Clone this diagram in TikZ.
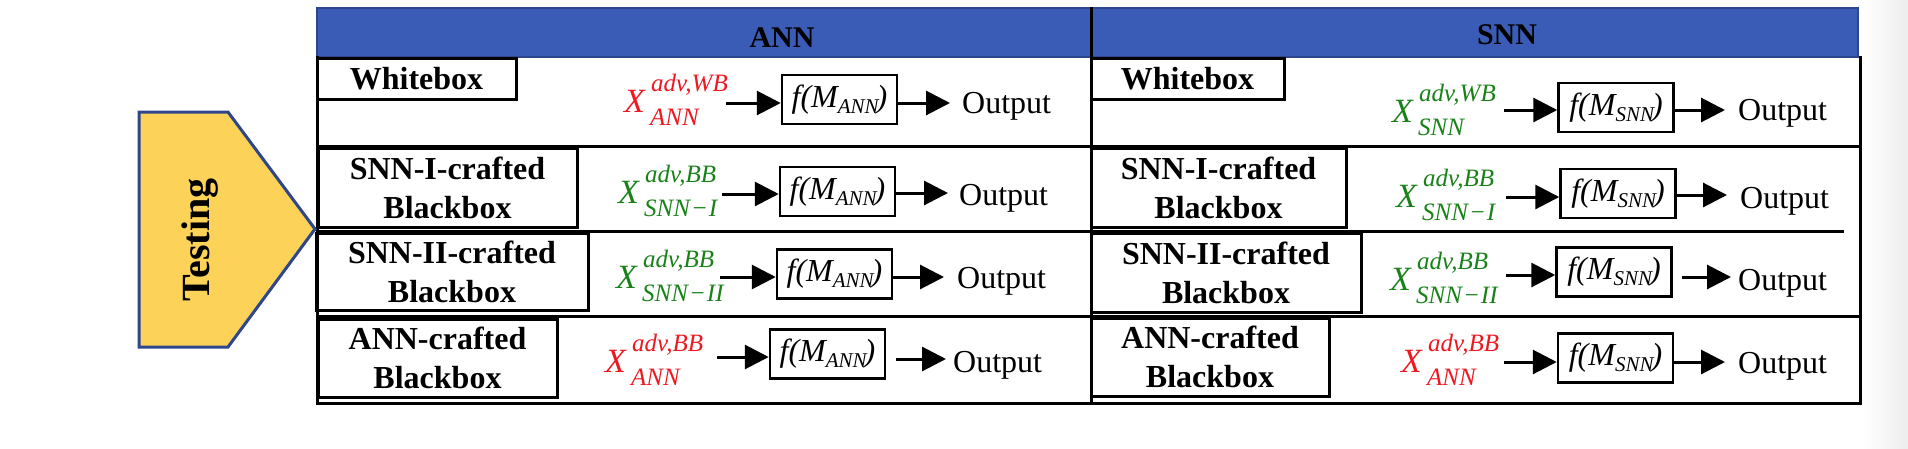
\documentclass[tikz,border=0pt]{standalone}
\usepackage{fontspec}
\setmainfont{Liberation Serif}
\usetikzlibrary{arrows.meta,calc}
\definecolor{hdrblue}{RGB}{58,92,182}
\definecolor{hdrborder}{RGB}{45,70,140}
\definecolor{testyel}{RGB}{253,210,88}
\definecolor{advred}{RGB}{238,24,32}
\definecolor{advgreen}{RGB}{24,130,24}
\newcommand{\fsz}[1]{\fontsize{#1}{#1}\selectfont}
\newcommand{\fM}[1]{f(M\raisebox{-6pt}{\fsz{21}#1}\kern-2pt)}
\newcommand{\advcell}[6]{%
  \node[xsty,text=#4] (#1) at (#2,#3) {X};
  \node[ssty,text=#4] (#1p) at ($(#2,#3)+(27,-21)$) {#5};
  \node[ssty,text=#4] (#1b) at ($(#2,#3)+(26,13)$) {#6};}
\begin{document}
\begin{tikzpicture}[x=1pt,y=-1pt,
  tbl/.style={line width=3pt, line cap=rect},
  lbl/.style={draw=black, line width=3pt, inner sep=0pt, align=center,
    font=\fontsize{32}{39}\selectfont\bfseries},
  hdr/.style={font=\fsz{30}\bfseries, inner sep=0pt},
  xsty/.style={anchor=base west, inner sep=0pt, font=\fsz{34}\itshape},
  ssty/.style={anchor=base west, inner sep=0pt, font=\fsz{25}\itshape},
  fbox/.style={draw=black, line width=2.5pt, minimum width=115pt, minimum height=49pt,
    inner sep=0pt, font=\fsz{32}\itshape},
  outsty/.style={anchor=base west, inner sep=0pt, font=\fsz{32}},
  arr/.style={line width=3pt, -{Triangle[length=24pt,width=24pt]}}]
\useasboundingbox (0,0) rectangle (1908,448);
\shade[left color=white, right color=black!7] (1862,0) rectangle (1908,448);

% header
\filldraw[fill=hdrblue, draw=hdrborder, line width=1.5pt] (317,8) rectangle (1858,57);
\node[hdr] (annh) at (782,37.5) {ANN};
\node[hdr] (snnh) at (1507,35) {SNN};

% table frame and rows
\draw[tbl] (317,57) -- (317,403) -- (1860,403) -- (1860,57);
\draw[tbl] (317,146) -- (1860,146);
\draw[tbl] (317,231) -- (1842,231);
\draw[tbl] (317,316) -- (1860,316);
\draw[tbl] (1091,8) -- (1091,403);

% Testing pentagon
\draw[fill=testyel, draw=hdrborder, line width=3pt, line join=miter]
  (139,112) -- (228,112) -- (315,229) -- (228,347) -- (139,347) -- cycle;
\node[rotate=90, font=\fsz{40}\bfseries, inner sep=0pt] (testing) at (200,240) {Testing};

% label boxes ANN side
\node[lbl, minimum width=199pt, minimum height=41pt] (wbA) at (416.5,78.5) {Whitebox};
\node[lbl, minimum width=259pt, minimum height=79pt] (s1A) at (447.5,187.5) {SNN-I-crafted\\Blackbox};
\node[lbl, minimum width=272pt, minimum height=77pt] (s2A) at (452,271.5) {SNN-II-crafted\\Blackbox};
\node[lbl, minimum width=239pt, minimum height=78pt] (anA) at (437.5,358) {ANN-crafted\\Blackbox};
% label boxes SNN side
\node[lbl, minimum width=193pt, minimum height=41pt] (wbS) at (1187.5,78.5) {Whitebox};
\node[lbl, minimum width=255pt, minimum height=79pt] (s1S) at (1218.5,187.5) {SNN-I-crafted\\Blackbox};
\node[lbl, minimum width=270pt, minimum height=79pt] (s2S) at (1226,272.5) {SNN-II-crafted\\Blackbox};
\node[lbl, minimum width=238pt, minimum height=78pt] (anS) at (1210,357) {ANN-crafted\\Blackbox};

% ---- row 1
\advcell{xA1}{624}{112}{advred}{adv,WB}{ANN}
\node[fbox] (fA1) at (839.5,99.5) {\fM{ANN}};
\node[outsty] (oA1) at (962,113) {Output};
\coordinate (iA1) at (726,103); \coordinate (tA1) at (950,103);
\draw[arr] (iA1) -- (iA1 -| fA1.west);
\draw[arr] (fA1.east |- tA1) -- (tA1);

\advcell{xS1}{1392}{122}{advgreen}{adv,WB}{SNN}
\node[fbox] (fS1) at (1616,107.5) {\fM{SNN}};
\node[outsty] (oS1) at (1738,120) {Output};
\coordinate (iS1) at (1504,110); \coordinate (tS1) at (1725,110);
\draw[arr] (iS1) -- (iS1 -| fS1.west);
\draw[arr] (fS1.east |- tS1) -- (tS1);

% ---- row 2
\advcell{xA2}{618}{203}{advgreen}{adv,BB}{SNN\kern1pt−\kern1pt I}
\node[fbox] (fA2) at (837.5,191.5) {\fM{ANN}};
\node[outsty] (oA2) at (959,205) {Output};
\coordinate (iA2) at (722,194); \coordinate (tA2) at (948,193);
\draw[arr] (iA2) -- (iA2 -| fA2.west);
\draw[arr] (fA2.east |- tA2) -- (tA2);

\advcell{xS2}{1396}{207}{advgreen}{adv,BB}{SNN\kern1pt−\kern1pt I}
\node[fbox] (fS2) at (1618,193.5) {\fM{SNN}};
\node[outsty] (oS2) at (1740,208) {Output};
\coordinate (iS2) at (1506,197); \coordinate (tS2) at (1727,195);
\draw[arr] (iS2) -- (iS2 -| fS2.west);
\draw[arr] (fS2.east |- tS2) -- (tS2);

% ---- row 3
\advcell{xA3}{616}{288}{advgreen}{adv,BB}{SNN\kern1pt−\kern1pt II}
\node[fbox] (fA3) at (834.5,274) {\fM{ANN}};
\node[outsty] (oA3) at (957,288) {Output};
\coordinate (iA3) at (720,277); \coordinate (tA3) at (944,277);
\draw[arr] (iA3) -- (iA3 -| fA3.west);
\draw[arr] (fA3.east |- tA3) -- (tA3);

\advcell{xS3}{1390}{290}{advgreen}{adv,BB}{SNN\kern1pt−\kern1pt II}
\node[fbox] (fS3) at (1614,272) {\fM{SNN}};
\node[outsty] (oS3) at (1738,290) {Output};
\coordinate (iS3) at (1506,275); \coordinate (tS3) at (1731,277);
\draw[arr] (iS3) -- (iS3 -| fS3.west);
\draw[arr, shorten <=9pt] (fS3.east |- tS3) -- (tS3);

% ---- row 4
\advcell{xA4}{605}{372}{advred}{adv,BB}{ANN}
\node[fbox] (fA4) at (827.5,354) {\fM{ANN}};
\node[outsty] (oA4) at (953,372) {Output};
\coordinate (iA4) at (717,357); \coordinate (tA4) at (946,359);
\draw[arr] (iA4) -- (iA4 -| fA4.west);
\draw[arr, shorten <=10pt] (fA4.east |- tA4) -- (tA4);

\advcell{xS4}{1401}{372}{advred}{adv,BB}{ANN}
\node[fbox] (fS4) at (1615.5,358) {\fM{SNN}};
\node[outsty] (oS4) at (1738,373) {Output};
\coordinate (iS4) at (1504,362); \coordinate (tS4) at (1725,362);
\draw[arr] (iS4) -- (iS4 -| fS4.west);
\draw[arr] (fS4.east |- tS4) -- (tS4);
\end{tikzpicture}
\end{document}
